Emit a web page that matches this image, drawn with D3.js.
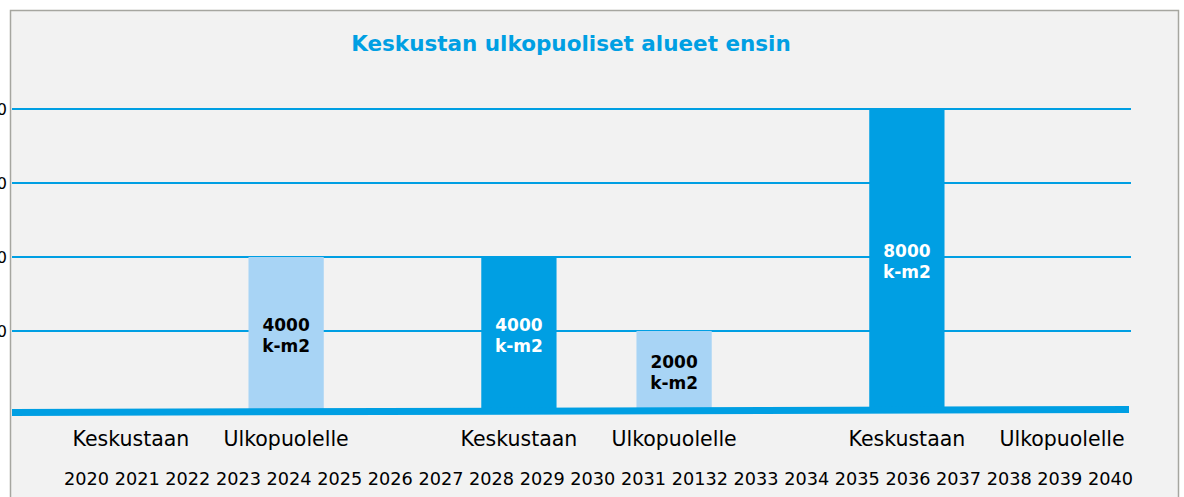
<!DOCTYPE html>
<html lang="fi">
<head>
    <meta charset="UTF-8">
    <title>Keskustan ulkopuoliset alueet ensin</title>
    <script src="https://d3js.org/d3.v7.min.js"></script>
    <style>
        body {
            margin: 0;
            background-color: #ffffff;
            font-family: "DejaVu Sans", Verdana, sans-serif;
        }
        svg { display: block; }
    </style>
</head>
<body>
    <svg id="chart"></svg>

    <script>
        // data
        const categories = ["Keskustaan", "Ulkopuolelle", "Keskustaan", "Ulkopuolelle", "Keskustaan", "Ulkopuolelle"];
        const values = [0, 4000, 4000, 2000, 8000, 0];
        // slot index of each category on a 13-slot band axis (gaps between the pairs)
        const slots = [0, 2, 5, 7, 10, 12];
        const yTicks = [2000, 4000, 6000, 8000];
        const years = ["2020", "2021", "2022", "2023", "2024", "2025", "2026", "2027", "2028", "2029", "2030",
                       "2031", "20132", "2033", "2034", "2035", "2036", "2037", "2038", "2039", "2040"];
        const unit = "k-m2";
        const title = "Keskustan ulkopuoliset alueet ensin";

        const W = 1184, H = 497;
        const dark = "#009fe3", light = "#a8d4f5";

        const svg = d3.select("#chart")
            .attr("width", W)
            .attr("height", H);

        // chart frame
        svg.append("rect")
            .attr("x", 10.5).attr("y", 10.5)
            .attr("width", 1168).attr("height", 500)
            .attr("fill", "#f2f2f2")
            .attr("stroke", "#a6a6a0")
            .attr("stroke-width", 1.5);

        svg.append("text")
            .attr("x", 571).attr("y", 51)
            .attr("text-anchor", "middle")
            .attr("font-weight", "bold")
            .attr("font-size", 21.5)
            .attr("fill", dark)
            .text(title);

        const x = d3.scaleBand()
            .domain(d3.range(13))
            .range([93.3, 1099.7])
            .paddingInner(0.03)
            .paddingOuter(0);

        const y = d3.scaleLinear()
            .domain([0, 8000])
            .range([405, 109]);

        const gridX0 = 12, gridX1 = 1131;

        // y axis labels (mostly outside the window on the left)
        const yAxis = svg.append("g")
            .attr("transform", "translate(8,0)")
            .call(d3.axisLeft(y).tickValues(yTicks).tickSize(0).tickPadding(1));
        yAxis.select(".domain").remove();
        yAxis.selectAll("text")
            .attr("font-size", 16)
            .attr("font-family", "DejaVu Sans, sans-serif")
            .attr("fill", "#000");

        // gridlines
        svg.append("g")
            .selectAll("line")
            .data(yTicks)
            .join("line")
            .attr("x1", gridX0).attr("x2", gridX1)
            .attr("y1", d => y(d)).attr("y2", d => y(d))
            .attr("stroke", dark)
            .attr("stroke-width", 2.2);

        const bars = categories.map((c, i) => ({ cat: c, value: values[i], slot: slots[i], isCenter: c === "Keskustaan" }));

        svg.append("g")
            .selectAll("rect")
            .data(bars.filter(d => d.value > 0))
            .join("rect")
            .attr("x", d => x(d.slot))
            .attr("y", d => y(d.value))
            .attr("width", x.bandwidth())
            .attr("height", d => y(0) + 4 - y(d.value))
            .attr("fill", d => d.isCenter ? dark : light);

        // floor of the chart, slightly tilted
        const floorTopL = y(0) + 4, floorTopR = y(0) + 1;
        svg.append("path")
            .attr("d", `M${gridX0},${floorTopL} L${1129},${floorTopR} L${1129},${floorTopR + 7} L${gridX0},${floorTopL + 7} Z`)
            .attr("fill", dark);

        // value labels
        const labels = svg.append("g")
            .selectAll("text")
            .data(bars.filter(d => d.value > 0))
            .join("text")
            .attr("text-anchor", "middle")
            .attr("font-weight", "bold")
            .attr("font-size", 17)
            .attr("fill", d => d.isCenter ? "#ffffff" : "#000000")
            .attr("transform", d => `translate(${x(d.slot) + x.bandwidth() / 2},${(y(d.value) + y(0)) / 2 + 4})`);
        labels.append("tspan").attr("x", 0).attr("y", -4).text(d => d.value);
        labels.append("tspan").attr("x", 0).attr("y", 17).text(unit);

        // category labels
        svg.append("g")
            .selectAll("text")
            .data(bars)
            .join("text")
            .attr("x", d => x(d.slot) + x.bandwidth() / 2)
            .attr("y", 446)
            .attr("text-anchor", "middle")
            .attr("font-size", 20.5)
            .attr("fill", "#000")
            .text(d => d.cat);

        // year row
        svg.append("text")
            .attr("x", 64).attr("y", 485)
            .attr("font-size", 17.7)
            .attr("fill", "#000")
            .text(years.join(" "));
    </script>
</body>
</html>
